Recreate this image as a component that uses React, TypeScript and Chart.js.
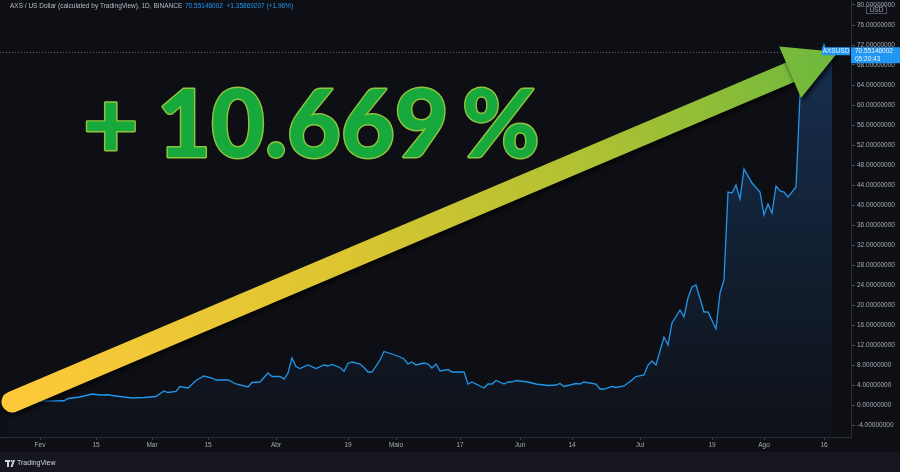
import React, { useEffect, useRef } from "react";
import { Chart, registerables } from "chart.js";

Chart.register(...registerables);

// ---- Data (day index = days since 1 Jan 2021) ----
const dayIndex = [
  23, 26, 29, 33, 37, 38, 41, 44, 46, 48, 49, 51, 54, 57, 60, 62, 63, 65, 66, 68,
  70, 72, 74, 75, 78, 80, 83, 84, 86, 88, 89, 91, 92, 93, 94, 95, 96, 98, 100, 102,
  103, 104, 105, 106, 107, 108, 109, 111, 112, 113, 114, 116, 117, 119, 121, 122, 123, 124, 125, 127,
  128, 129, 130, 131, 133, 134, 137, 138, 139, 142, 143, 144, 145, 147, 148, 149, 150, 153, 155, 158,
  160, 161, 162, 165, 166, 167, 170, 171, 172, 174, 175, 177, 179, 180, 182, 183, 184, 185, 187, 188,
  189, 191, 192, 193, 194, 195, 197, 198, 200, 201, 202, 203, 204, 205, 206, 207, 209, 211, 212, 213,
  214, 215, 216, 217, 218, 220, 221, 222, 223, 224, 225, 226, 227, 228, 229,
];
const closePrices = [
  0.62, 0.66, 0.72, 0.8, 0.85, 1.3, 1.6, 2.2, 2.0, 2.05, 1.9, 1.7, 1.4, 1.5, 1.7, 2.8, 2.5, 2.7, 3.7, 3.4,
  4.9, 5.8, 5.4, 5.0, 5.0, 4.2, 3.6, 4.5, 4.6, 6.4, 5.7, 5.7, 5.2, 6.4, 9.4, 7.7, 7.3, 8.0, 7.3, 8.0,
  7.8, 8.1, 7.8, 7.5, 6.7, 8.3, 8.6, 8.2, 7.5, 6.6, 6.6, 9.0, 10.7, 10.2, 9.6, 9.2, 8.2, 8.6, 8.0, 8.4,
  8.2, 7.4, 8.2, 6.8, 7.1, 6.6, 6.6, 4.2, 4.6, 3.4, 4.2, 4.2, 4.9, 4.2, 4.6, 4.6, 4.9, 4.6, 4.2, 3.9,
  4.0, 4.3, 3.7, 4.3, 4.2, 4.6, 4.2, 3.2, 3.2, 3.7, 3.5, 3.8, 5.0, 5.7, 6.0, 8.0, 8.8, 8.0, 13.6, 12.0,
  16.4, 19.0, 17.6, 21.4, 23.6, 24.0, 18.6, 18.6, 15.2, 22.4, 25.0, 42.6, 42.4, 44.0, 41.2, 47.2, 44.4, 42.6, 38.0, 40.2,
  38.4, 43.8, 42.8, 42.6, 41.6, 43.6, 62.0, 66.0, 70.0, 68.0, 67.0, 69.0, 72.0, 69.2, 70.55,
];
const tickDays = [31, 45, 59, 73, 90, 108, 120, 136, 151, 164, 181, 199, 212, 227];
const tickLabels = ["Fev", "15", "Mar", "15", "Abr", "19", "Maio", "17", "Jun", "14", "Jul", "19", "Ago", "16"];
const priceTicks = [-4, 0, 4, 8, 12, 16, 20, 24, 28, 32, 36, 40, 44, 48, 52, 56, 60, 64, 68, 72, 76, 80];
const lastPrice = 70.55146002;
const lastPriceText = "70.55146002";
const lastTimeText = "05:20:43";
const symbolText = "AXSUSD";
const headerTitle = "AXS / US Dollar (calculated by TradingView), 1D, BINANCE";
const headerQuote = "70.55146002  +1.35869207 (+1.96%)";
const gainParts = ["+", "10.669", "%"];

// ---- Styles ----
const BG = "#0e0f14";
const FOOTER = "#16171e";
const SEP = "#2a2d36";
const LABEL = "#a6a9b2";
const BLUE = "#2196f3";
const FONT = '"Liberation Sans", Arial, sans-serif';

function fitText(ctx: CanvasRenderingContext2D, text: string, x: number, top: number, w: number, h: number) {
  const m = ctx.measureText(text);
  const inkW = m.actualBoundingBoxLeft + m.actualBoundingBoxRight;
  const inkH = m.actualBoundingBoxAscent + m.actualBoundingBoxDescent;
  const sx = w / inkW;
  const sy = h / inkH;
  ctx.save();
  ctx.translate(x + m.actualBoundingBoxLeft * sx, top + m.actualBoundingBoxAscent * sy);
  ctx.scale(sx, sy);
  ctx.lineJoin = "round";
  ctx.lineWidth = 3;
  ctx.strokeStyle = "#8fc43c";
  ctx.strokeText(text, 0, 0);
  ctx.fillStyle = "#18a93c";
  ctx.fillText(text, 0, 0);
  ctx.restore();
}

const overlayPlugin = {
  id: "overlay",
  beforeDraw(chart: any) {
    const { ctx, width, height } = chart;
    ctx.save();
    ctx.fillStyle = BG;
    ctx.fillRect(0, 0, width, height);
    ctx.fillStyle = FOOTER;
    ctx.fillRect(0, 452, width, height - 452);
    ctx.restore();
  },
  afterDatasetsDraw(chart: any) {
    const { ctx, chartArea } = chart;
    const y = Math.round(chart.scales.y.getPixelForValue(lastPrice)) + 0.5;
    ctx.save();
    ctx.strokeStyle = "rgba(130,134,145,0.7)";
    ctx.lineWidth = 1;
    ctx.setLineDash([1, 2]);
    ctx.beginPath();
    ctx.moveTo(chartArea.left, y);
    ctx.lineTo(chartArea.right, y);
    ctx.stroke();
    ctx.restore();
  },
  afterDraw(chart: any) {
    const { ctx, chartArea } = chart;
    ctx.save();
    // Header
    ctx.textBaseline = "middle";
    ctx.textAlign = "left";
    ctx.font = `6.5px ${FONT}`;
    ctx.fillStyle = "#b8bbc4";
    ctx.fillText(headerTitle, 10, 6.5);
    ctx.fillStyle = BLUE;
    ctx.fillText(headerQuote, 185, 6.5);

    // USD box
    ctx.strokeStyle = "#4f525c";
    ctx.lineWidth = 1;
    ctx.strokeRect(866.5, 5.5, 20, 8);
    ctx.fillStyle = LABEL;
    ctx.textAlign = "center";
    ctx.fillText("USD", 876.5, 9.8);

    // Big gain text
    ctx.font = `900 98px Lato, "Liberation Sans", sans-serif`;
    ctx.textBaseline = "alphabetic";
    ctx.textAlign = "left";
    fitText(ctx, gainParts[0], 87, 102, 48, 48);
    fitText(ctx, gainParts[1], 162, 88, 283, 70);
    fitText(ctx, gainParts[2], 465, 88, 72, 70);

    // Arrow
    const T = { x: 12, y: 402 };
    const P = { x: 838, y: 52 };
    const dx = P.x - T.x, dy = P.y - T.y;
    const len = Math.hypot(dx, dy);
    const ux = dx / len, uy = dy / len;
    const nx = -uy, ny = ux;
    const headLen = 52, halfBase = 28;
    const Bx = P.x - ux * headLen, By = P.y - uy * headLen;
    const grad = ctx.createLinearGradient(T.x, T.y, P.x, P.y);
    grad.addColorStop(0, "#fdc93a");
    grad.addColorStop(0.4, "#dcc531");
    grad.addColorStop(0.72, "#abc133");
    grad.addColorStop(1, "#6cb83e");
    ctx.save();
    ctx.shadowColor = "rgba(0,0,0,0.75)";
    ctx.shadowBlur = 5;
    ctx.shadowOffsetX = 2;
    ctx.shadowOffsetY = 3;
    ctx.strokeStyle = grad;
    ctx.lineWidth = 21;
    ctx.lineCap = "round";
    ctx.beginPath();
    ctx.moveTo(T.x, T.y);
    ctx.lineTo(Bx + ux * 2, By + uy * 2);
    ctx.stroke();
    ctx.lineCap = "butt";
    ctx.fillStyle = grad;
    ctx.beginPath();
    ctx.moveTo(P.x, P.y);
    ctx.lineTo(Bx + nx * halfBase, By + ny * halfBase);
    ctx.lineTo(Bx - nx * halfBase, By - ny * halfBase);
    ctx.closePath();
    ctx.fill();
    ctx.restore();

    // Last price labels
    const yP = chart.scales.y.getPixelForValue(lastPrice);
    ctx.fillStyle = BLUE;
    ctx.fillRect(chartArea.right - 29, yP - 5, 28, 8);
    ctx.fillRect(chartArea.right, yP - 5, 49, 16);
    ctx.fillStyle = "#e8f2fc";
    ctx.font = `6.5px ${FONT}`;
    ctx.textBaseline = "middle";
    ctx.textAlign = "center";
    ctx.fillText(symbolText, chartArea.right - 15, yP - 0.8);
    ctx.textAlign = "left";
    ctx.fillText(lastPriceText, chartArea.right + 4, yP - 0.8);
    ctx.fillText(lastTimeText, chartArea.right + 4, yP + 7);

    // Footer logo
    ctx.fillStyle = "#d1d4dc";
    ctx.fillRect(5, 460, 5, 2);
    ctx.fillRect(7, 460, 2, 7);
    ctx.beginPath();
    ctx.arc(11.5, 461, 1, 0, Math.PI * 2);
    ctx.fill();
    ctx.beginPath();
    ctx.moveTo(13, 460);
    ctx.lineTo(15, 460);
    ctx.lineTo(12.5, 467);
    ctx.lineTo(10.5, 467);
    ctx.closePath();
    ctx.fill();
    ctx.font = `7px ${FONT}`;
    ctx.textAlign = "left";
    ctx.fillText("TradingView", 17, 463.5);
    ctx.restore();
  },
};

export default function App() {
  const ref = useRef<HTMLCanvasElement>(null);

  useEffect(() => {
    document.body.style.margin = "0";
    document.body.style.background = BG;
    const canvas = ref.current!;
    const points = dayIndex.map((d, i) => ({ x: d, y: closePrices[i] }));
    const chart = new Chart(canvas, {
      type: "line",
      data: {
        datasets: [
          {
            data: points,
            borderColor: "#2196e8",
            borderWidth: 1.3,
            pointRadius: 0,
            tension: 0,
            fill: "start",
            backgroundColor: (c: any) => {
              const area = c.chart.chartArea;
              if (!area) return "rgba(33,120,200,0.2)";
              const g = c.chart.ctx.createLinearGradient(0, area.top, 0, area.bottom);
              g.addColorStop(0, "rgba(35,95,170,0.45)");
              g.addColorStop(1, "rgba(35,95,170,0.02)");
              return g;
            },
          },
        ],
      },
      options: {
        responsive: false,
        animation: false,
        devicePixelRatio: 1,
        layout: { padding: { left: 0, right: 0, top: 0, bottom: 20 } },
        plugins: { legend: { display: false }, tooltip: { enabled: false } },
        scales: {
          x: {
            type: "linear",
            position: "bottom",
            min: 21,
            max: 233.75,
            afterBuildTicks: (s: any) => {
              s.ticks = tickDays.map((v) => ({ value: v }));
            },
            afterFit: (s: any) => {
              s.height = 15;
              s.paddingLeft = 0;
              s.paddingRight = 0;
            },
            ticks: {
              autoSkip: false,
              maxRotation: 0,
              minRotation: 0,
              padding: 1,
              color: LABEL,
              font: { size: 6.5, family: FONT },
              callback: (_v: any, i: number) => tickLabels[i],
            },
            grid: { drawOnChartArea: false, drawTicks: true, tickLength: 3, color: "#3a3e48" },
            border: { display: true, color: SEP },
          },
          y: {
            type: "linear",
            position: "right",
            min: -6.4,
            max: 81,
            afterBuildTicks: (s: any) => {
              s.ticks = priceTicks.map((v) => ({ value: v }));
            },
            afterFit: (s: any) => {
              s.width = 49;
              s.paddingTop = 0;
              s.paddingBottom = 0;
            },
            ticks: {
              padding: 2,
              color: LABEL,
              font: { size: 6.5, family: FONT },
              callback: (v: any) => Number(v).toFixed(8),
            },
            grid: { drawOnChartArea: false, drawTicks: true, tickLength: 4, color: "#4a4e59" },
            border: { display: true, color: SEP },
          },
        },
      },
      plugins: [overlayPlugin],
    } as any);
    return () => chart.destroy();
  }, []);

  return (
    <div style={{ width: 900, height: 472 }}>
      <canvas ref={ref} width={900} height={472} style={{ display: "block", width: 900, height: 472 }} />
    </div>
  );
}
